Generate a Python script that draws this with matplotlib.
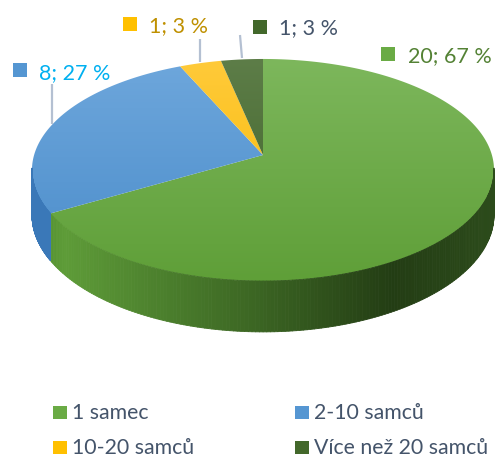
import numpy as np
import matplotlib
matplotlib.use("Agg")
import matplotlib.pyplot as plt
from matplotlib.patches import Polygon, Rectangle
from matplotlib.collections import PolyCollection
from matplotlib.colors import to_rgb

# ---------------- data ----------------
categories = ["1 samec", "2-10 samců", "10-20 samců", "Více než 20 samců"]
values = [20, 8, 1, 1]

# ---------------- style ----------------
top_light = ["#7db75c", "#6ea7dc", "#ffca3a", "#5d7d48"]
top_dark = ["#5f9f38", "#4a8cca", "#f7b900", "#3e6227"]
legend_cols = ["#6aab45", "#5596d2", "#ffc000", "#43682b"]
label_cols = ["#548235", "#00b0f0", "#bf9000", "#44546a"]
text_col = "#44546a"
FONT = ["Lato", "DejaVu Sans"]

W, H = 495, 458
fig = plt.figure(figsize=(W / 100, H / 100), dpi=100)
ax = fig.add_axes([0, 0, 1, 1])
ax.axis("off")

# perspective projection of a tilted disc
cx, cy = 263, 155
k = 0.1351
A, B = 228.9, 109.0
depth0 = 44.0


def proj(theta):
    """theta: degrees clockwise from 12 o'clock on the disc."""
    th = np.radians(theta)
    u, v = np.sin(th), np.cos(th)
    w = 1 + k * v
    return cx + A * u / w, cy - B * v / w, w


total = sum(values)
angles = [v / total * 360 for v in values]
spans = []
cur = 0.0
for ang in angles:
    spans.append((cur, cur + ang))
    cur += ang


def lerp_stops(stops, u):
    us = [s[0] for s in stops]
    cs = np.array([to_rgb(s[1]) for s in stops])
    return tuple(np.interp(u, us, cs[:, j]) for j in range(3))


side_stops = [
    [(0.0, "#4f8a2d"), (0.07, "#5e9c38"), (0.3, "#4a7d2c"), (0.5, "#3a6322"),
     (0.78, "#233d14"), (1.0, "#2c4b1b")],
    [(0.0, "#3a78b8"), (1.0, "#4585c5")],
    [(0.0, "#d9a300"), (1.0, "#d9a300")],
    [(0.0, "#2f4a1f"), (1.0, "#2f4a1f")],
]

xmin_e, xmax_e = cx - A / np.sqrt(1 - k * k), cx + A / np.sqrt(1 - k * k)
vis_lo = np.degrees(np.arccos(-k)) - 1  # silhouette angle on right
vis_hi = 360 - vis_lo

# side walls
for i, (t0, t1) in enumerate(spans):
    lo, hi = max(t0, vis_lo), min(t1, vis_hi)
    if hi <= lo:
        continue
    ts = np.linspace(lo, hi, 180)
    X, Y, Wt = proj(ts)
    D = depth0 / Wt
    quads, cols = [], []
    for j in range(len(ts) - 1):
        quads.append([(X[j], Y[j]), (X[j + 1], Y[j + 1]),
                      (X[j + 1], Y[j + 1] + D[j + 1]), (X[j], Y[j] + D[j])])
        u = ((X[j] + X[j + 1]) / 2 - xmin_e) / (xmax_e - xmin_e)
        cols.append(lerp_stops(side_stops[i], u))
    ax.add_collection(PolyCollection(quads, facecolors=cols, edgecolors=cols,
                                     linewidths=0.6))

# top faces with vertical gradient
ytop = proj(0.0)[1]
ybot = proj(180.0)[1]
for i, (t0, t1) in enumerate(spans):
    ts = np.linspace(t0, t1, 240)
    X, Y, _ = proj(ts)
    pts = [(cx, cy)] + list(zip(X, Y))
    poly = Polygon(pts, closed=True, facecolor="none", edgecolor="none")
    ax.add_patch(poly)
    c1, c2 = np.array(to_rgb(top_light[i])), np.array(to_rgb(top_dark[i]))
    grad = np.linspace(0, 1, 256)[:, None, None] * (c2 - c1) + c1
    grad = np.repeat(grad, 2, axis=1)
    im = ax.imshow(grad, extent=(xmin_e, xmax_e, ybot, ytop), origin="upper",
                   aspect="auto", interpolation="bilinear")
    im.set_clip_path(poly)

# data labels
lab_layout = [
    dict(sq=(381, 47), tx=408, base=62, line=None),
    dict(sq=(13, 63), tx=39, base=79, line=((52, 84), (52, 124))),
    dict(sq=(123, 17), tx=149, base=32, line=((200, 39), (200, 62))),
    dict(sq=(253, 20), tx=279, base=34, line=((240, 35), (242, 58))),
]
for i, v in enumerate(values):
    L = lab_layout[i]
    if L["line"] is not None:
        (x0, y0), (x1, y1) = L["line"]
        ax.plot([x0, x1], [y0, y1], color="#b4c0d2", lw=1.6, solid_capstyle="butt")
    ax.add_patch(Rectangle(L["sq"], 14, 14, facecolor=legend_cols[i], edgecolor="none"))
    pct = round(100 * v / total)
    ax.text(L["tx"], L["base"], f"{v}; {pct} %", color=label_cols[i], fontsize=15.5,
            family=FONT, va="baseline", ha="left")

# legend
leg_pos = [(53, 419), (295, 419), (53, 454), (295, 454)]
for i, cat in enumerate(categories):
    x, base = leg_pos[i]
    ax.add_patch(Rectangle((x, base - 13), 14, 13, facecolor=legend_cols[i], edgecolor="none"))
    ax.text(x + 19, base, cat, color=text_col, fontsize=15.3, family=FONT,
            va="baseline", ha="left")

ax.set_xlim(0, W)
ax.set_ylim(H, 0)
fig.savefig("out.png", dpi=100)
